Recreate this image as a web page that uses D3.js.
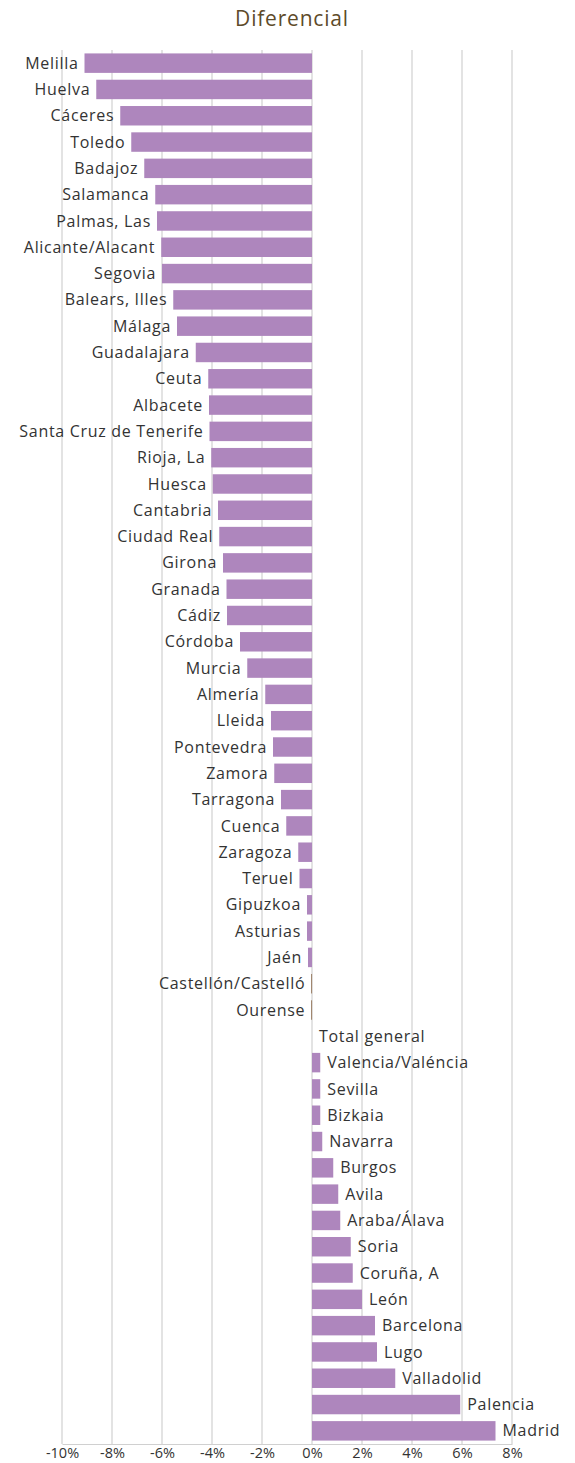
<!DOCTYPE html>
<html><head><meta charset="utf-8">
<script src="https://cdn.jsdelivr.net/npm/d3@7"></script>
<style>body{margin:0;background:#fff;} svg{display:block;}</style>
</head><body>
<script>
const categories = ["Melilla","Huelva","Cáceres","Toledo","Badajoz","Salamanca","Palmas, Las","Alicante/Alacant","Segovia","Balears, Illes","Málaga","Guadalajara","Ceuta","Albacete","Santa Cruz de Tenerife","Rioja, La","Huesca","Cantabria","Ciudad Real","Girona","Granada","Cádiz","Córdoba","Murcia","Almería","Lleida","Pontevedra","Zamora","Tarragona","Cuenca","Zaragoza","Teruel","Gipuzkoa","Asturias","Jaén","Castellón/Castelló","Ourense","Total general","Valencia/Valéncia","Sevilla","Bizkaia","Navarra","Burgos","Avila","Araba/Álava","Soria","Coruña, A","León","Barcelona","Lugo","Valladolid","Palencia","Madrid"];
const values = [-9.1,-8.63,-7.67,-7.23,-6.71,-6.27,-6.2,-6.03,-6.0,-5.55,-5.4,-4.65,-4.15,-4.12,-4.1,-4.03,-3.97,-3.76,-3.71,-3.56,-3.42,-3.4,-2.88,-2.59,-1.87,-1.64,-1.56,-1.51,-1.24,-1.03,-0.55,-0.5,-0.2,-0.2,-0.16,-0.03,-0.03,0,0.33,0.33,0.33,0.41,0.85,1.05,1.13,1.55,1.63,2.0,2.52,2.6,3.33,5.93,7.34];
const tickValues = [-10,-8,-6,-4,-2,0,2,4,6,8];
const title = "Diferencial";

const W = 575, H = 1463;
const svg = d3.select("body").append("svg").attr("width", W).attr("height", H);
const x = d3.scaleLinear().domain([-10, 8]).range([62, 512]);
const y = d3.scaleBand().domain(categories).range([50, 1444]).paddingInner(0.26).paddingOuter(0.13);
const font = "'Open Sans', Lato, sans-serif";

svg.append("text").attr("x", 292).attr("y", 26).attr("text-anchor", "middle")
  .attr("font-family", font).attr("font-size", 21).attr("letter-spacing", 0.8)
  .attr("fill", "#5e4b2a").text(title);

// gridlines
svg.append("g").selectAll("line").data(tickValues).join("line")
  .attr("x1", d => x(d)).attr("x2", d => x(d)).attr("y1", 50).attr("y2", 1444)
  .attr("stroke", "#d0d0d0").attr("stroke-width", 1.2);

// bottom axis
const ax = svg.append("g").attr("transform", "translate(0,1444)")
  .call(d3.axisBottom(x).tickValues(tickValues).tickSize(0).tickPadding(3.5).tickFormat(d => d + "%"));
ax.select(".domain").attr("stroke", "#d0d0d0").attr("stroke-width", 1.2);
ax.selectAll("text").attr("font-family", font).attr("font-size", 14.5).attr("fill", "#333");

// bars
svg.append("g").selectAll("rect").data(values).join("rect")
  .attr("x", d => x(Math.min(0, d)))
  .attr("width", d => Math.max(Math.abs(x(d) - x(0)), d === 0 ? 0 : 0.8))
  .attr("y", (d, i) => y(categories[i]))
  .attr("height", y.bandwidth())
  .attr("fill", (d) => Math.abs(d) < 0.1 ? "#8c6a4a" : "#ae86bd");

// labels
svg.append("g").selectAll("text").data(values).join("text")
  .attr("x", d => d < 0 ? x(d) - 6 : x(d) + 7)
  .attr("y", (d, i) => y(categories[i]) + y.bandwidth() / 2)
  .attr("dy", "0.35em")
  .attr("text-anchor", d => d < 0 ? "end" : "start")
  .attr("font-family", font).attr("font-size", 16).attr("letter-spacing", 0.7).attr("fill", "#333")
  .text((d, i) => categories[i]);
</script>
</body></html>
